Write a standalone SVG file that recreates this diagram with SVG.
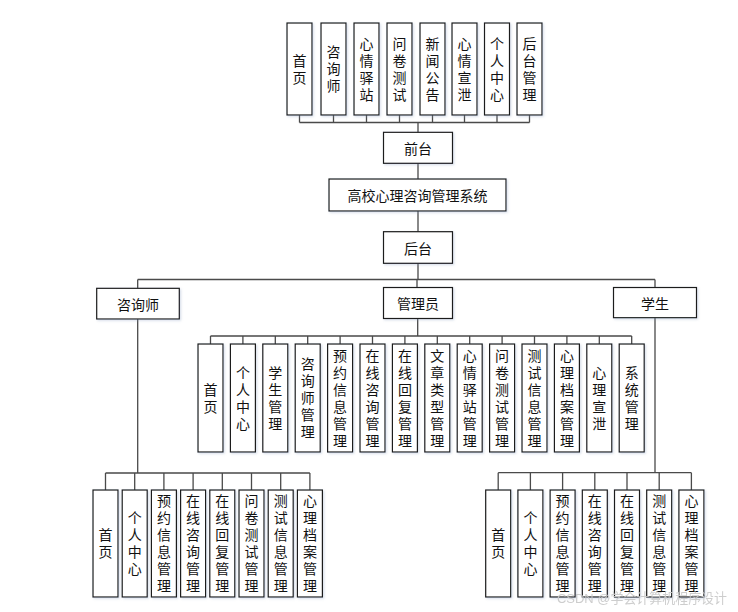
<svg xmlns="http://www.w3.org/2000/svg" width="738" height="612" viewBox="0 0 738 612">
<style>
.bg{fill:#ffffff}
.box{fill:#ffffff;stroke:#1a1a1a;stroke-width:1.2;filter:url(#sh)}
.t{font-family:"Noto Sans CJK SC","Liberation Sans",sans-serif;font-size:14px;fill:#111;text-anchor:middle;dominant-baseline:central}
.v{font-family:"Noto Sans CJK SC","Liberation Sans",sans-serif;font-size:14px;fill:#111;text-anchor:middle;writing-mode:vertical-rl;letter-spacing:3px}
.ln{fill:none;stroke:#4a4a4a;stroke-width:1.3}
.wm{font-family:"Liberation Sans","Noto Sans CJK SC",sans-serif;font-size:13.5px;fill:#c8c8c8;opacity:0.9}
</style>
<defs>
<filter id="sh" x="-20%" y="-20%" width="140%" height="140%">
<feDropShadow dx="1.2" dy="1.2" stdDeviation="1" flood-color="#8aa0c0" flood-opacity="0.35"/>
</filter>
</defs>
<rect class="bg" x="0" y="0" width="738" height="612"/>

<g id="connectors">
<path class="ln" d="M299.5,115V122.5M333.5,115V122.5M366.5,115V122.5M399.5,115V122.5M432.5,115V122.5M464.5,115V122.5M497,115V122.5M529.5,115V122.5M299.5,122.5H529.5M418,122.5V132.3"/>
<path class="ln" d="M418,163.3V179M418,211V231.7M418,263.3V279.5"/>
<path class="ln" d="M137.7,279.5H655M137.7,279.5V288.3M417,279.5V287.5M655,279.5V287.5"/>
<path class="ln" d="M417.7,318.5V336M210.5,336H631.7M210.5,336V344M242.9,336V344M275.3,336V344M307.7,336V344M340.1,336V344M372.5,336V344M404.9,336V344M437.3,336V344M469.7,336V344M502.1,336V344M534.5,336V344M566.9,336V344M599.3,336V344M631.7,336V344"/>
<path class="ln" d="M137.7,319V473M105.5,473H309.9M105.5,473V490M134.7,473V490M163.9,473V490M193.1,473V490M222.3,473V490M251.5,473V490M280.7,473V490M309.9,473V490"/>
<path class="ln" d="M655,317.7V472.7M498.2,472.7H691.4M498.2,472.7V490M530.4,472.7V490M562.6,472.7V490M594.8,472.7V490M627,472.7V490M659.2,472.7V490M691.4,472.7V490"/>
</g>

<g id="f1"><rect class="box" x="287" y="23" width="25" height="92"/><text class="v" x="299.5" y="70.5">首页</text></g>
<g id="f2"><rect class="box" x="321" y="23" width="25" height="92"/><text class="v" x="333.5" y="70.5">咨询师</text></g>
<g id="f3"><rect class="box" x="354" y="23" width="25" height="92"/><text class="v" x="366.5" y="70.5">心情驿站</text></g>
<g id="f4"><rect class="box" x="387" y="23" width="25" height="92"/><text class="v" x="399.5" y="70.5">问卷测试</text></g>
<g id="f5"><rect class="box" x="420" y="23" width="25" height="92"/><text class="v" x="432.5" y="70.5">新闻公告</text></g>
<g id="f6"><rect class="box" x="452" y="23" width="25" height="92"/><text class="v" x="464.5" y="70.5">心情宣泄</text></g>
<g id="f7"><rect class="box" x="484.5" y="23" width="25" height="92"/><text class="v" x="497" y="70.5">个人中心</text></g>
<g id="f8"><rect class="box" x="517" y="23" width="25" height="92"/><text class="v" x="529.5" y="70.5">后台管理</text></g>

<g id="qiantai"><rect class="box" x="383.5" y="132.3" width="69" height="31"/><text class="t" x="418" y="148">前台</text></g>
<g id="system"><rect class="box" x="329" y="179" width="177" height="32"/><text class="t" x="417.5" y="195">高校心理咨询管理系统</text></g>
<g id="houtai"><rect class="box" x="383.5" y="231.7" width="69" height="31.6"/><text class="t" x="418" y="247.5">后台</text></g>

<g id="counselor"><rect class="box" x="96.7" y="288.3" width="82.6" height="30.7"/><text class="t" x="138" y="303.7">咨询师</text></g>
<g id="admin"><rect class="box" x="383.5" y="287.5" width="69" height="31"/><text class="t" x="418" y="303">管理员</text></g>
<g id="student"><rect class="box" x="613.5" y="287.5" width="83" height="30.2"/><text class="t" x="655" y="302.6">学生</text></g>

<g id="a1"><rect class="box" x="198" y="344" width="25" height="108"/><text class="v" x="210.5" y="399.5">首页</text></g>
<g id="a2"><rect class="box" x="230.4" y="344" width="25" height="108"/><text class="v" x="242.9" y="399.5">个人中心</text></g>
<g id="a3"><rect class="box" x="262.8" y="344" width="25" height="108"/><text class="v" x="275.3" y="399.5">学生管理</text></g>
<g id="a4"><rect class="box" x="295.2" y="344" width="25" height="108"/><text class="v" x="307.7" y="399.5">咨询师管理</text></g>
<g id="a5"><rect class="box" x="327.6" y="344" width="25" height="108"/><text class="v" x="340.1" y="399.5">预约信息管理</text></g>
<g id="a6"><rect class="box" x="360" y="344" width="25" height="108"/><text class="v" x="372.5" y="399.5">在线咨询管理</text></g>
<g id="a7"><rect class="box" x="392.4" y="344" width="25" height="108"/><text class="v" x="404.9" y="399.5">在线回复管理</text></g>
<g id="a8"><rect class="box" x="424.8" y="344" width="25" height="108"/><text class="v" x="437.3" y="399.5">文章类型管理</text></g>
<g id="a9"><rect class="box" x="457.2" y="344" width="25" height="108"/><text class="v" x="469.7" y="399.5">心情驿站管理</text></g>
<g id="a10"><rect class="box" x="489.6" y="344" width="25" height="108"/><text class="v" x="502.1" y="399.5">问卷测试管理</text></g>
<g id="a11"><rect class="box" x="522" y="344" width="25" height="108"/><text class="v" x="534.5" y="399.5">测试信息管理</text></g>
<g id="a12"><rect class="box" x="554.4" y="344" width="25" height="108"/><text class="v" x="566.9" y="399.5">心理档案管理</text></g>
<g id="a13"><rect class="box" x="586.8" y="344" width="25" height="108"/><text class="v" x="599.3" y="399.5">心理宣泄</text></g>
<g id="a14"><rect class="box" x="619.2" y="344" width="25" height="108"/><text class="v" x="631.7" y="399.5">系统管理</text></g>

<g id="c1"><rect class="box" x="93" y="490" width="25" height="107"/><text class="v" x="105.5" y="545">首页</text></g>
<g id="c2"><rect class="box" x="122.2" y="490" width="25" height="107"/><text class="v" x="134.7" y="545">个人中心</text></g>
<g id="c3"><rect class="box" x="151.4" y="490" width="25" height="107"/><text class="v" x="163.9" y="545">预约信息管理</text></g>
<g id="c4"><rect class="box" x="180.6" y="490" width="25" height="107"/><text class="v" x="193.1" y="545">在线咨询管理</text></g>
<g id="c5"><rect class="box" x="209.8" y="490" width="25" height="107"/><text class="v" x="222.3" y="545">在线回复管理</text></g>
<g id="c6"><rect class="box" x="239" y="490" width="25" height="107"/><text class="v" x="251.5" y="545">问卷测试管理</text></g>
<g id="c7"><rect class="box" x="268.2" y="490" width="25" height="107"/><text class="v" x="280.7" y="545">测试信息管理</text></g>
<g id="c8"><rect class="box" x="297.4" y="490" width="25" height="107"/><text class="v" x="309.9" y="545">心理档案管理</text></g>

<g id="s1"><rect class="box" x="485.7" y="490" width="25" height="107"/><text class="v" x="498.2" y="545">首页</text></g>
<g id="s2"><rect class="box" x="517.9" y="490" width="25" height="107"/><text class="v" x="530.4" y="545">个人中心</text></g>
<g id="s3"><rect class="box" x="550.1" y="490" width="25" height="107"/><text class="v" x="562.6" y="545">预约信息管理</text></g>
<g id="s4"><rect class="box" x="582.3" y="490" width="25" height="107"/><text class="v" x="594.8" y="545">在线咨询管理</text></g>
<g id="s5"><rect class="box" x="614.5" y="490" width="25" height="107"/><text class="v" x="627" y="545">在线回复管理</text></g>
<g id="s6"><rect class="box" x="646.7" y="490" width="25" height="107"/><text class="v" x="659.2" y="545">测试信息管理</text></g>
<g id="s7"><rect class="box" x="678.9" y="490" width="25" height="107"/><text class="v" x="691.4" y="545">心理档案管理</text></g>

<text class="wm" x="557" y="603" textLength="170" lengthAdjust="spacingAndGlyphs">CSDN @学会计算机程序设计</text>
</svg>
